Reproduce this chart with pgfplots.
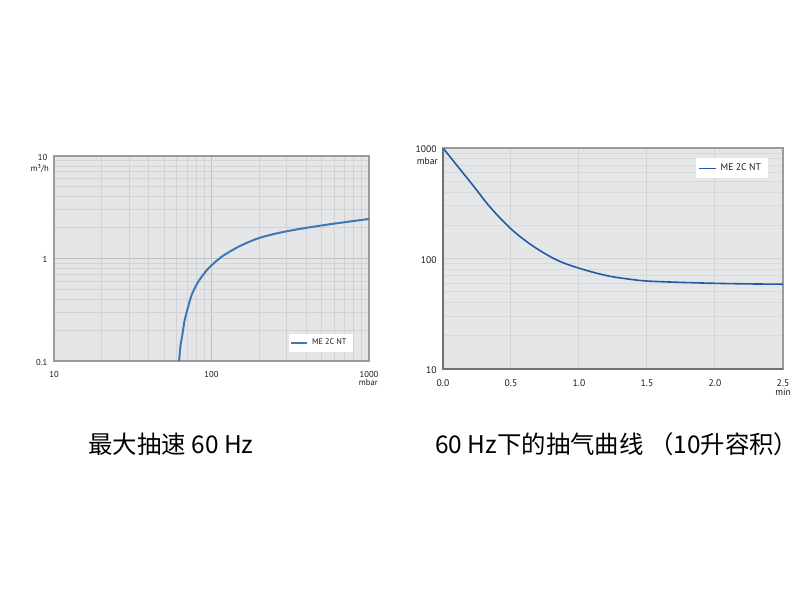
\documentclass[border=0pt]{standalone}
\usepackage{fontspec}
\setmainfont{PT Sans}
\newfontfamily\cjk{Noto Sans CJK SC}
\usepackage{pgfplots}
\pgfplotsset{compat=1.18}
\definecolor{bg}{HTML}{E5E6E8}
\definecolor{minorgrid}{HTML}{D2D3D5}
\definecolor{majorgrid}{HTML}{BEBFC1}
\definecolor{framegray}{HTML}{9A9B9D}
\definecolor{darkframe}{HTML}{707173}
\definecolor{tickgray}{HTML}{1A1A1A}
\definecolor{lcurve}{HTML}{3C7AB4}
\definecolor{rcurve}{HTML}{1F5CA6}
\begin{document}
\begin{tikzpicture}
\path[use as bounding box, fill=white] (0pt,0pt) rectangle (400pt,300pt);
% left chart
\begin{axis}[
  at={(27pt,119.5pt)}, anchor=south west,
  scale only axis, width=157.5pt, height=102.5pt,
  xmode=log, ymode=log,
  xmin=10, xmax=1000, ymin=0.1, ymax=10,
  xtick={10,100,1000}, xticklabels={10,100,1000},
  ytick={0.1,1,10}, yticklabels={0.1,1,10},
  grid=both,
  minor grid style={draw=minorgrid, line width=0.4pt},
  major grid style={draw=majorgrid, line width=0.5pt},
  major tick length=0pt, minor tick length=0pt,
  axis background/.style={fill=bg},
  axis line style={draw=framegray, line width=0.6pt},
  tick label style={font=\fontsize{4.3}{5}\selectfont, text=tickgray},
  xticklabel style={yshift=-1.9pt},
  yticklabel style={xshift=0.2pt, yshift=-0.5pt},
  legend style={draw=none, fill=white, font=\fontsize{4.1}{4.6}\selectfont, text=tickgray,
    at={(0.949,0.04)}, anchor=south east, inner xsep=1.0pt, inner ysep=0.4pt},
  legend image code/.code={\draw[#1, line width=0.7pt] (0pt,0pt) -- (8pt,0pt);},
  clip mode=individual,
]
\addplot[lcurve, line width=1pt, smooth, tension=0.4] coordinates {
 (62.3,0.1) (63.5,0.14) (65.3,0.18) (67.2,0.24) (69.6,0.30) (74.8,0.44) (82.4,0.594)
 (95.5,0.80) (116,1.04) (148,1.30) (184,1.51) (213,1.63) (260,1.76) (315,1.87)
 (383,1.97) (500,2.10) (700,2.26) (1000,2.43)
};
\addlegendentry{ME 2C NT}
\node[anchor=north east, font=\fontsize{4.3}{5}\selectfont, text=tickgray, inner sep=0pt]
  at (rel axis cs:0,1) [xshift=-2.4pt, yshift=-4.2pt] {m³/h};
\node[anchor=north east, font=\fontsize{4.3}{5}\selectfont, text=tickgray, inner sep=0pt]
  at (rel axis cs:1,0) [xshift=4.6pt, yshift=-9.2pt] {mbar};
\end{axis}
% right chart
\begin{axis}[
  at={(221.5pt,115.5pt)}, anchor=south west,
  scale only axis, width=170pt, height=110.5pt,
  ymode=log,
  xmin=0, xmax=2.5, ymin=10, ymax=1000,
  xtick={0,0.5,1,1.5,2,2.5}, xticklabels={0.0,0.5,1.0,1.5,2.0,2.5},
  ytick={10,100,1000}, yticklabels={10,100,1000},
  xmajorgrids, ymajorgrids, yminorgrids,
  minor grid style={draw=minorgrid!70!bg, line width=0.4pt},
  major grid style={draw=minorgrid, line width=0.5pt},
  major tick length=0pt, minor tick length=0pt,
  axis background/.style={fill=bg},
  axis line style={draw=framegray, line width=0.8pt},
  tick label style={font=\fontsize{4.8}{5.5}\selectfont, text=tickgray},
  xticklabel style={yshift=-1.8pt},
  yticklabel style={xshift=0.3pt, yshift=-0.6pt},
  legend style={draw=none, fill=white, font=\fontsize{4.8}{5.4}\selectfont, text=tickgray,
    at={(0.956,0.955)}, anchor=north east, inner xsep=1.3pt, inner ysep=0.5pt},
  legend image code/.code={\draw[#1, line width=0.7pt] (0pt,0pt) -- (8.5pt,0pt);},
  clip mode=individual,
]
\addplot[rcurve, line width=0.8pt, smooth, tension=0.55] coordinates {
 (0,1000) (0.10,702) (0.223,455) (0.346,292) (0.505,183) (0.664,129) (0.836,97)
 (1.003,81.5) (1.204,70) (1.375,64.9) (1.502,62.5) (1.73,60.9) (2.0,59.6) (2.25,58.9) (2.5,58.5)
};
\addlegendentry{ME 2C NT}
\draw[darkframe, line width=0.8pt] (rel axis cs:0,1) -- (rel axis cs:0,0) -- (rel axis cs:1,0);
\node[anchor=north east, font=\fontsize{4.8}{5.5}\selectfont, text=tickgray, inner sep=0pt]
  at (rel axis cs:0,1) [xshift=-2.4pt, yshift=-4.8pt] {mbar};
\node[anchor=north east, font=\fontsize{4.8}{5.5}\selectfont, text=tickgray, inner sep=0pt]
  at (rel axis cs:1,0) [xshift=4.2pt, yshift=-9.6pt] {min};
\end{axis}
% captions
\node[anchor=west, inner sep=0pt, font=\cjk\fontsize{12.2}{14}\selectfont] at (44pt,78pt) {最大抽速 60 Hz};
\node[anchor=west, inner sep=0pt, font=\cjk\fontsize{12.2}{14}\selectfont] at (217.5pt,78pt) {60 Hz下的抽气曲线 （10升容积）};
\end{tikzpicture}
\end{document}
